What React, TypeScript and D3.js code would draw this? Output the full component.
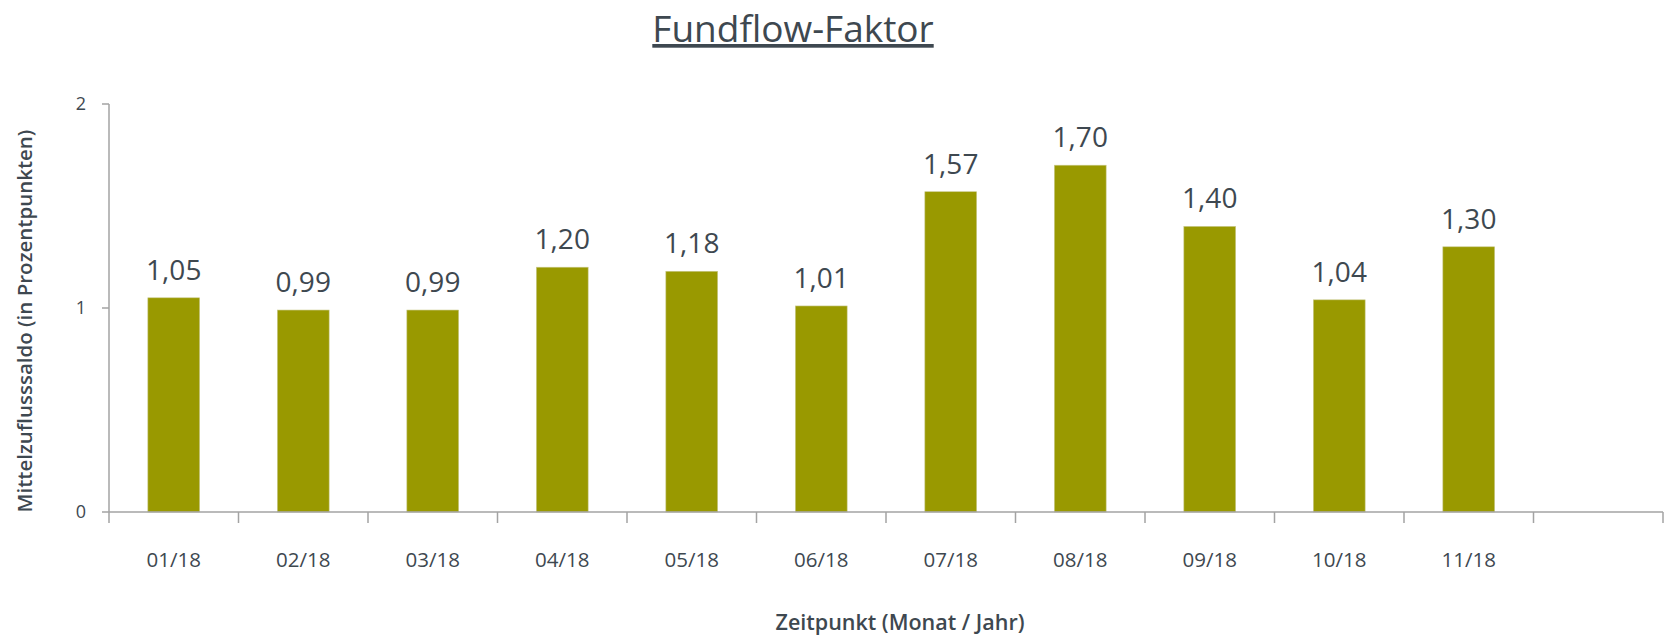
import React from "react";
import * as d3 from "d3";

const months = ["01/18", "02/18", "03/18", "04/18", "05/18", "06/18", "07/18", "08/18", "09/18", "10/18", "11/18"];
const values = [1.05, 0.99, 0.99, 1.2, 1.18, 1.01, 1.57, 1.7, 1.4, 1.04, 1.3];
const yTicks = [0, 1, 2];
const title = "Fundflow-Faktor";
const yTitle = "Mittelzuflusssaldo (in Prozentpunkten)";
const xTitle = "Zeitpunkt (Monat / Jahr)";

const W = 1667;
const H = 636;
const left = 109;
const right = 1663;
const top = 104;
const bottom = 512;
const textColor = "#3e4850";
const axisColor = "#a3a3a3";
const barColor = "#999900";
const font = "'Open Sans', sans-serif";

export default function App() {
  const domain = [...months, ""];
  const x = d3.scaleBand<string>().domain(domain).range([left, right]).paddingInner(0.6).paddingOuter(0.3);
  const y = d3.scaleLinear().domain([0, 2]).range([bottom, top]);
  const step = x.step();
  const bw = x.bandwidth();
  const boundaries = domain.map((d) => (x(d) as number) - (step - bw) / 2);
  boundaries.push(right);
  const fmt = (v: number) => v.toFixed(2).replace(".", ",");

  return (
    <svg width={W} height={H} style={{ position: "absolute", left: 0, top: 0 }} fontFamily={font}>
      <rect width={W} height={H} fill="#fff" />
      <text x={793} y={42} textAnchor="middle" fontSize={37} fill={textColor} textDecoration="underline">
        {title}
      </text>
      {/* y axis */}
      <line x1={left} x2={left} y1={y(2)} y2={y(0)} stroke={axisColor} strokeWidth={1.5} />
      {yTicks.map((t) => (
        <g key={t}>
          <line x1={left - 7} x2={left} y1={y(t)} y2={y(t)} stroke={axisColor} strokeWidth={1.5} />
          <text x={left - 23} y={y(t)} dy="0.36em" textAnchor="end" fontSize={18} fill={textColor}>
            {t}
          </text>
        </g>
      ))}
      {/* bars */}
      {months.map((m, i) => (
        <rect key={m} x={x(m)} y={y(values[i])} width={bw} height={y(0) - y(values[i])} fill={barColor} stroke="#c9c98a" strokeWidth={0.6} />
      ))}
      {months.map((m, i) => (
        <text key={m} x={(x(m) as number) + bw / 2} y={y(values[i]) - 18} textAnchor="middle" fontSize={28} fill={textColor}>
          {fmt(values[i])}
        </text>
      ))}
      {/* x axis */}
      <line x1={left} x2={right} y1={y(0)} y2={y(0)} stroke={axisColor} strokeWidth={1.5} />
      {boundaries.map((b, i) => (
        <line key={i} x1={b} x2={b} y1={y(0)} y2={y(0) + 11} stroke={axisColor} strokeWidth={1.5} />
      ))}
      {months.map((m) => (
        <text key={m} x={(x(m) as number) + bw / 2} y={567} textAnchor="middle" fontSize={20.5} fill={textColor}>
          {m}
        </text>
      ))}
      <text x={900} y={630} textAnchor="middle" fontSize={21.5} fontWeight={600} fill={textColor}>
        {xTitle}
      </text>
      <text transform={`translate(32, 321) rotate(-90)`} textAnchor="middle" fontSize={20.5} fontWeight={600} fill={textColor}>
        {yTitle}
      </text>
    </svg>
  );
}
